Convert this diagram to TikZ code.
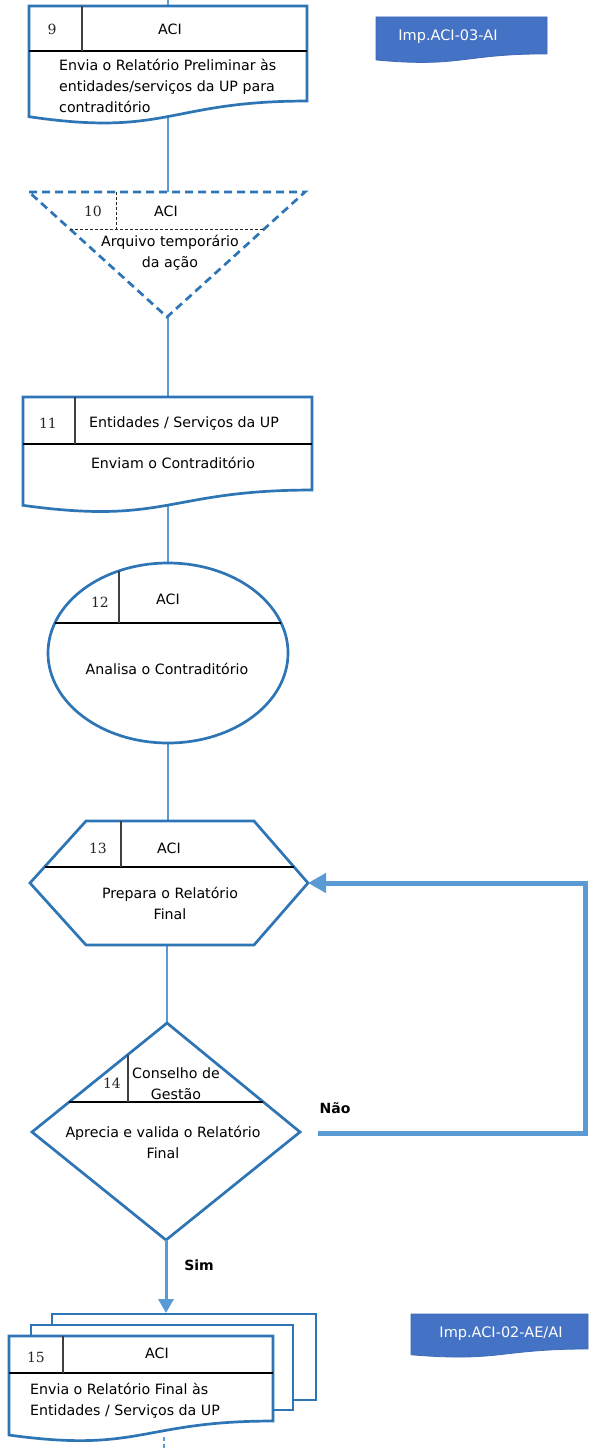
\documentclass[tikz,border=0pt]{standalone}
\usepackage{fontspec}
\setmainfont{DejaVu Sans}
\newfontfamily\numfont{DejaVu Serif}
\usetikzlibrary{arrows.meta}
\definecolor{shapeblue}{RGB}{46,117,182}
\definecolor{linkblue}{RGB}{91,155,213}
\definecolor{impblue}{RGB}{68,114,196}
\definecolor{impedge}{RGB}{62,106,184}
% #1 style, #2 x, #3 y (top), #4 width, #5 height
\newcommand{\drawdocshape}[5]{%
  \draw[#1] (#2,#3) -- ({#2+#4},#3) -- ({#2+#4},{#3+0.802*#5})
    .. controls ({#2+0.5*#4},{#3+0.802*#5}) and ({#2+0.5*#4},{#3+1.107*#5}) ..
    (#2,{#3+0.934*#5}) -- cycle;}
\tikzset{
  outline/.style={draw=shapeblue, line width=2.7pt, fill=white, line join=miter},
  divider/.style={draw=black, line width=1.1pt},
  vdivider/.style={draw=black!75, line width=1.1pt},
  link/.style={draw=linkblue, line width=1.2pt},
  txt/.style={inner sep=0pt, font=\fontsize{14.2}{21}\selectfont, align=center},
  numtxt/.style={inner sep=0pt, text=black!85, font=\numfont\fontsize{14}{17}\selectfont},
  imp/.style={draw=impedge, line width=0.8pt, fill=impblue},
  imptxt/.style={inner sep=0pt, text=white, font=\fontsize{14.5}{17}\selectfont},
  flagtxt/.style={inner sep=0pt, font=\bfseries\fontsize{14}{17}\selectfont},
}
\begin{document}
\begin{tikzpicture}[x=1pt,y=-1pt]
\useasboundingbox (0,0) rectangle (589,1450);
\fill[white] (0,0) rectangle (589,1450);

% ---------- named anchor points ----------
\coordinate (topin) at (168,0);
\coordinate (d9t) at (168,6);
\coordinate (d9b) at (168,116.5);
\coordinate (t10t) at (168,192);
\coordinate (t10b) at (168,317);
\coordinate (d11t) at (168,397);
\coordinate (d11b) at (168,505);
\coordinate (e12t) at (168,563);
\coordinate (e12b) at (168,743);
\coordinate (h13t) at (168,821);
\coordinate (h13b) at (167,945);
\coordinate (h13r) at (308,883);
\coordinate (k14t) at (167,1023);
\coordinate (k14b) at (166,1240);
\coordinate (nao0) at (318,1133);
\coordinate (naoA) at (585,1133);
\coordinate (naoB) at (585,883);
\coordinate (m15t) at (166,1313);
\coordinate (d15b) at (164,1437);
\coordinate (outbot) at (164,1450);

% ---------- connectors ----------
\draw[link] (topin) -- (d9t);
\draw[link] (d9b) -- (t10t);
\draw[link] (t10b) -- (d11t);
\draw[link] (d11b) -- (e12t);
\draw[link] (e12b) -- (h13t);
\draw[link] (h13b) -- (k14t);
\draw[link, dashed, dash pattern=on 4pt off 3pt] (d15b) -- (outbot);

% ---------- 9 : document ----------
\drawdocshape{outline}{29}{6}{278}{118.5}
\draw[divider] (29,51) -- (307,51);
\draw[vdivider] (82,6) -- (82,51);
\node[numtxt] (n9) at (52,29) {9};
\node[txt] (a9) at (170,29) {ACI};
\node[txt, align=left, anchor=west] (b9) at (59,86) {Envia o Relatório Preliminar às\\entidades/serviços da UP para\\contraditório};

% Imp.ACI-03-AI
\drawdocshape{imp}{376}{17}{171}{46}
\node[imptxt] (i03) at (448,37) {Imp.ACI-03-AI};

% ---------- 10 : dashed triangle ----------
\draw[draw=shapeblue, line width=2.7pt, dash pattern=on 8pt off 5pt, fill=white]
  (29,192) -- (305,192) -- (167,317) -- cycle;
\draw[black!85, line width=0.9pt, dash pattern=on 3pt off 2pt] (70,229) -- (265,229);
\draw[black!85, line width=0.9pt, dash pattern=on 3pt off 2pt] (116,192) -- (116,229);
\node[numtxt] (n10) at (93,211) {10};
\node[txt] (a10) at (166,211) {ACI};
\node[txt] (b10) at (170,253) {Arquivo temporário\\da ação};

% ---------- 11 : document ----------
\drawdocshape{outline}{23}{397}{289}{116}
\draw[divider] (23,444) -- (312,444);
\draw[vdivider] (75,397) -- (75,444);
\node[numtxt] (n11) at (48,423) {11};
\node[txt] (a11) at (184,423) {Entidades / Serviços da UP};
\node[txt] (b11) at (173,463) {Enviam o Contraditório};

% ---------- 12 : ellipse ----------
\draw[outline] (168,653) ellipse [x radius=120, y radius=90];
\draw[divider] (55,623) -- (281,623);
\draw[vdivider] (119,571) -- (119,623);
\node[numtxt] (n12) at (100,602) {12};
\node[txt] (a12) at (168,599) {ACI};
\node[txt] (b12) at (167,669) {Analisa o Contraditório};

% ---------- 13 : hexagon ----------
\draw[outline] (86,821) -- (254,821) -- (308,883) -- (254,945) -- (86,945) -- (30,883) -- cycle;
\draw[divider] (45,867) -- (294,867);
\draw[vdivider] (121,821) -- (121,867);
\node[numtxt] (n13) at (98,848) {13};
\node[txt] (a13) at (169,848) {ACI};
\node[txt] (b13) at (170,903) {Prepara o Relatório\\Final};

% ---------- 14 : diamond ----------
\draw[outline] (167,1023) -- (300,1132) -- (166,1240) -- (32,1132) -- cycle;
\draw[divider] (69,1102) -- (263,1102);
\draw[vdivider] (128,1055) -- (128,1102);
\node[numtxt] (n14) at (112,1083) {14};
\node[txt] (a14) at (176,1083.5) {Conselho de\\Gestão};
\node[txt] (b14) at (163,1142.5) {Aprecia e valida o Relatório\\Final};

% Não loop
\draw[draw=linkblue, line width=5pt, -{Triangle[length=18pt,width=19pt]}]
  (nao0) -- (naoA) -- (naoB) -- (h13r);
\node[flagtxt] (nao) at (335,1108) {Não};

% Sim arrow
\draw[draw=linkblue, line width=3pt, -{Triangle[length=14pt,width=15pt]}] (k14b) -- (m15t);
\node[flagtxt] (sim) at (199,1265) {Sim};

% ---------- 15 : multi-document ----------
\draw[outline] (52,1314) rectangle (316,1400);
\draw[outline] (31,1325) rectangle (293,1410);
\drawdocshape{outline}{9}{1336}{264}{106}
\draw[divider] (9,1373) -- (273,1373);
\draw[vdivider] (63,1336) -- (63,1373);
\node[numtxt] (n15) at (36,1357) {15};
\node[txt] (a15) at (157,1353) {ACI};
\node[txt, align=left, anchor=west] (b15) at (30,1401) {Envia o Relatório Final às\\Entidades / Serviços da UP};

% Imp.ACI-02-AE/AI
\drawdocshape{imp}{411}{1314}{177}{43.6}
\node[imptxt] (i02) at (501,1334) {Imp.ACI-02-AE/AI};
\end{tikzpicture}
\end{document}
